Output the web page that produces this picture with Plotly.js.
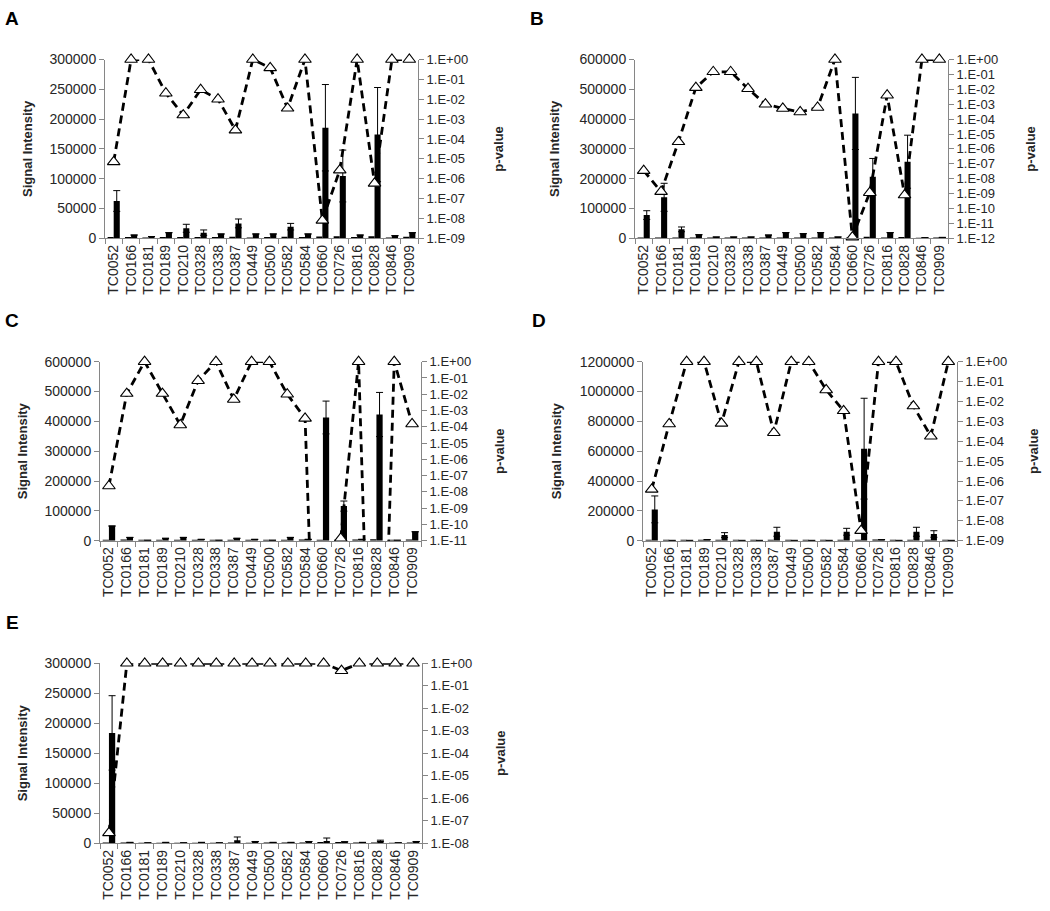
<!DOCTYPE html>
<html>
<head>
<meta charset="utf-8">
<script src="https://cdn.plot.ly/plotly-3.0.1.min.js"></script>
<style>
  html, body { margin: 0; padding: 0; background: #ffffff; }
  #chart { width: 1050px; height: 911px; }
</style>
</head>
<body>
<div id="chart"></div>
<script>
// ---------------- DATA ----------------
const categories = ["TC0052","TC0166","TC0181","TC0189","TC0210","TC0328","TC0338","TC0387","TC0449",
                    "TC0500","TC0582","TC0584","TC0660","TC0726","TC0816","TC0828","TC0846","TC0909"];

const pTickVals = [1, 1e-1, 1e-2, 1e-3, 1e-4, 1e-5, 1e-6, 1e-7, 1e-8, 1e-9, 1e-10, 1e-11, 1e-12];
const pTickText = ["1.E+00","1.E-01","1.E-02","1.E-03","1.E-04","1.E-05","1.E-06","1.E-07","1.E-08","1.E-09","1.E-10","1.E-11","1.E-12"];

// Panel A
const controlA = [2000,2000,1500,2000,2000,2000,2000,2500,1500,2000,2500,2000,3000,3500,2000,3500,1500,2500];
const signalA  = [62600,5500,3000,9400,16800,9500,7300,25000,7300,7300,19500,7300,185500,104500,5500,174000,4400,9400];
const errorA   = [17400,0,0,0,6700,4500,0,7400,0,0,5500,0,72500,43500,0,79000,0,0];
const pvalueA  = [7e-6,1,1,0.02,1.6e-3,0.03,0.01,2.8e-4,1,0.38,3.5e-3,1,8e-9,2.7e-6,1,5.8e-7,1,1];

// Panel B
const controlB = [3000,3000,3000,3000,2500,2500,2500,3000,3000,3000,3000,3000,3000,5000,3000,4000,2000,2500];
const signalB  = [78000,137600,30000,12000,4400,4400,4400,11000,19000,15500,19000,4400,419000,206600,19000,257000,2000,3000];
const errorB   = [14600,47000,8000,0,0,0,0,0,0,0,0,0,121000,61400,0,89000,0,0];
const pvalueB  = [3.5e-8,1.35e-9,3e-6,0.013,0.15,0.15,0.011,1e-3,5.2e-4,3e-4,6e-4,1,1.2e-12,1.15e-9,4e-3,8e-10,1,1];

// Panel C
const controlC = [3000,4000,3000,3000,3000,3000,3000,3000,3000,3000,3000,4000,3000,4000,4000,5000,3000,4000];
const signalC  = [49300,11000,1500,8000,11000,4500,1500,8000,4500,1500,11000,4500,413000,116000,4500,423000,1500,30000];
const errorC   = [0,0,0,0,0,0,0,0,0,0,0,0,55000,17000,0,74000,0,0];
const pvalueC  = [2.3e-8,0.011,1,0.011,1.3e-4,0.068,1,4.8e-3,1,1,0.01,3.3e-4,1e-35,1.4e-11,1,1e-35,1,1.5e-4];

// Panel D
const controlD = [6000,6000,6000,6000,6000,6000,6000,6000,6000,6000,6000,6000,6000,8000,6000,6000,6000,6000];
const signalD  = [210000,2000,2000,6700,38000,2000,2000,60000,2000,2000,2000,60000,617000,6700,2000,60000,45000,2000];
const errorD   = [90000,0,0,0,16000,0,0,30000,0,0,0,23000,338000,0,0,30000,22000,0];
const pvalueD  = [3.8e-7,7.4e-4,1,1,7.9e-4,1,1,2.7e-4,1,1,0.038,3.4e-3,3.2e-9,1,1,5.9e-3,1.8e-4,1];

// Panel E
const controlE = [1500,1500,1000,1000,1000,1000,1000,1500,1000,1500,1500,1500,2000,2000,1500,1500,1000,1500];
const signalE  = [184000,1500,800,1500,800,1500,800,5000,3000,1500,1500,3000,4000,2500,1500,4000,800,3000];
const errorE   = [62000,0,0,0,0,0,0,5500,0,0,0,0,4800,0,0,1200,0,0];
const pvalueE  = [2.9e-8,1,1,1,1,1,1,1,1,1,1,1,1,0.47,1,1,1,1];

// ---------------- LAYOUT CONFIG ----------------
const W = 1050, H = 911;
const FONT = '"Liberation Sans", Arial, sans-serif';
const AXC = '#868686';
const TXT = '#262626';
const fx = v => v / W;
const fy = v => 1 - v / H;

const panels = [
  {label:'A', ctrl:controlA, sig:signalA, err:errorA, p:pvalueA, ymax:300000,  dtick:50000,  pmin:-9,  box:[105,418,59.5,238.3], lab:[12,19],  ls:13, rs:26},
  {label:'B', ctrl:controlB, sig:signalB, err:errorB, p:pvalueB, ymax:600000,  dtick:100000, pmin:-12, box:[635,948,59.5,238.3], lab:[537,19], ls:16, rs:28},
  {label:'C', ctrl:controlC, sig:signalC, err:errorC, p:pvalueC, ymax:600000,  dtick:100000, pmin:-11, box:[100,421,361.7,540.7], lab:[12,320], ls:13, rs:24},
  {label:'D', ctrl:controlD, sig:signalD, err:errorD, p:pvalueD, ymax:1200000, dtick:200000, pmin:-9,  box:[643,957,361.7,540.7], lab:[539,320], ls:15, rs:22},
  {label:'E', ctrl:controlE, sig:signalE, err:errorE, p:pvalueE, ymax:300000,  dtick:50000,  pmin:-8,  box:[100,422,663.3,843.3], lab:[12,622], ls:13, rs:24}
];

const traces = [];
const layout = {
  width: W, height: H,
  margin: {l:0, r:0, t:0, b:0},
  paper_bgcolor: '#ffffff', plot_bgcolor: 'rgba(0,0,0,0)',
  showlegend: false,
  barmode: 'group', bargap: 0.3, bargroupgap: 0,
  font: {family: FONT, color: TXT},
  annotations: []
};

panels.forEach((pn, i) => {
  const n = i + 1;
  const xa = n === 1 ? 'x' : 'x' + n;
  const ylId = 2 * n - 1, yrId = 2 * n;
  const yl = ylId === 1 ? 'y' : 'y' + ylId;
  const yr = 'y' + yrId;
  const [x0, x1, yTop, yBot] = pn.box;

  traces.push({type:'bar', x:categories, y:pn.ctrl, xaxis:xa, yaxis:yl,
               marker:{color:'#000000', line:{width:0}}, hoverinfo:'skip'});
  traces.push({type:'bar', x:categories, y:pn.sig, xaxis:xa, yaxis:yl,
               marker:{color:'#000000', line:{width:0}},
               error_y:{type:'data', array:pn.err, symmetric:true, visible:true, color:'#000000', thickness:1, width:3.5}});
  traces.push({type:'scatter', mode:'lines', x:categories, y:pn.p, xaxis:xa, yaxis:yr,
               line:{color:'#000000', width:2.8, dash:'8px,5px'}, hoverinfo:'skip'});
  const pmarks = pn.p.map(v => (Math.log10(v) >= pn.pmin - 0.05 ? v : null));
  traces.push({type:'scatter', mode:'markers', x:categories, y:pmarks, xaxis:xa, yaxis:yr, cliponaxis:false,
               marker:{symbol:'triangle-up', size:11, color:'#ffffff', line:{color:'#000000', width:1.1}}});

  layout[n === 1 ? 'xaxis' : 'xaxis' + n] = {
    domain:[fx(x0), fx(x1)], anchor: yl, type:'category', range:[-0.5, 17.5],
    showline:true, linecolor:AXC, linewidth:1, mirror:false,
    ticks:'outside', tickson:'boundaries', ticklen:5, tickcolor:AXC, tickwidth:1,
    tickangle:-90, tickfont:{family:FONT, size:14, color:TXT},
    showgrid:false, zeroline:false, fixedrange:true
  };
  layout[ylId === 1 ? 'yaxis' : 'yaxis' + ylId] = {
    domain:[fy(yBot), fy(yTop)], anchor: xa, range:[0, pn.ymax], dtick:pn.dtick, tick0:0, tickformat:'d',
    showline:true, linecolor:AXC, linewidth:1,
    ticks:'outside', ticklen:5, tickcolor:AXC, tickwidth:1,
    tickfont:{family:FONT, size:14, color:TXT},
    showgrid:false, zeroline:false, fixedrange:true,
    title:{text:'Signal Intensity', standoff:pn.ls, font:{family:FONT, size:13, weight:'bold', color:TXT}}
  };
  layout['yaxis' + yrId] = {
    overlaying: yl, anchor: xa, side:'right', type:'log', range:[pn.pmin, 0],
    tickvals: pTickVals.filter(v => Math.log10(v) >= pn.pmin - 0.01),
    ticktext: pTickText.filter((t, k) => Math.log10(pTickVals[k]) >= pn.pmin - 0.01),
    showline:true, linecolor:AXC, linewidth:1,
    ticks:'outside', ticklen:5, tickcolor:AXC, tickwidth:1,
    tickfont:{family:FONT, size:13, color:TXT},
    showgrid:false, zeroline:false, fixedrange:true,
    title:{text:'p-value', standoff:pn.rs, font:{family:FONT, size:13, weight:'bold', color:TXT}}
  };
  layout.annotations.push({
    text:'<b>' + pn.label + '</b>', xref:'paper', yref:'paper', x:fx(pn.lab[0]), y:fy(pn.lab[1]),
    xanchor:'center', yanchor:'middle', showarrow:false, font:{family:FONT, size:19, color:'#000000'}
  });
});

Plotly.newPlot('chart', traces, layout, {displayModeBar:false, staticPlot:true});
</script>
</body>
</html>
